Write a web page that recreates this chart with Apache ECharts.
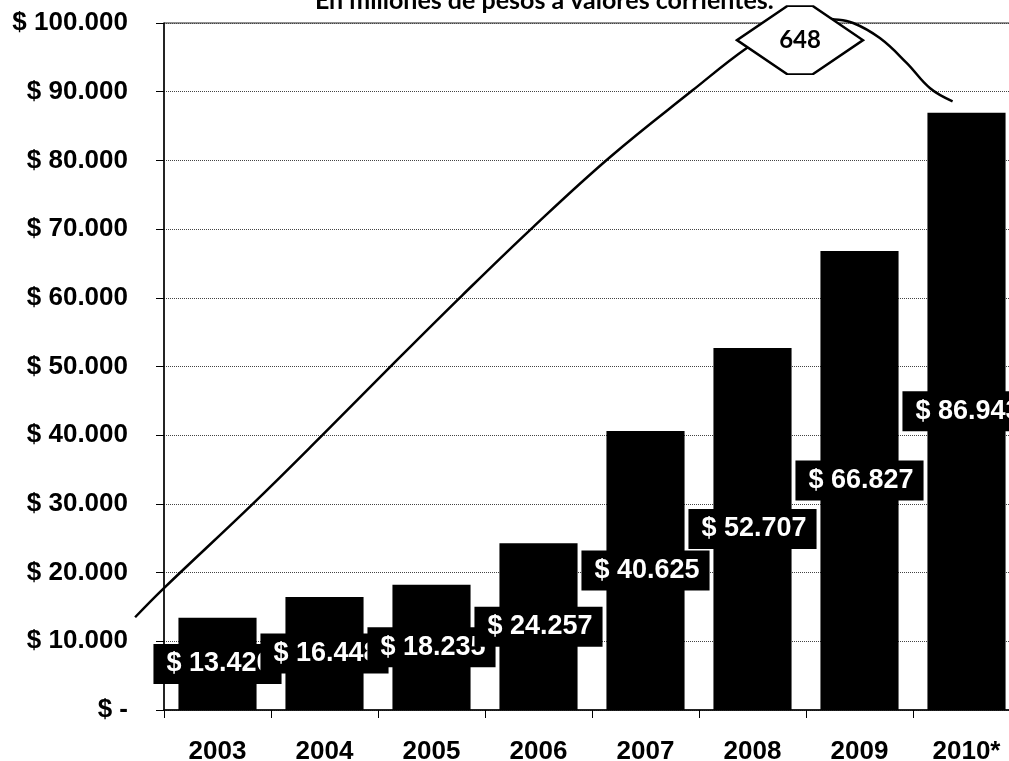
<!DOCTYPE html>
<html>
<head>
<meta charset="utf-8">
<script src="https://cdn.jsdelivr.net/npm/echarts@6/dist/echarts.min.js"></script>
<style>
html,body{margin:0;padding:0;background:#fff;}
#chart{width:1009px;height:761px;}
</style>
</head>
<body>
<div id="chart"></div>
<script>
// ---- data ----
var categories = ['2003', '2004', '2005', '2006', '2007', '2008', '2009', '2010*'];
var values = [13420, 16448, 18235, 24257, 40625, 52707, 66827, 86943];
var yTicks = [0, 10000, 20000, 30000, 40000, 50000, 60000, 70000, 80000, 90000, 100000];
var titleText = 'En millones de pesos a valores corrientes.';
// trend curve, x in category units (0 = left edge of 2003), y in pesos
var curveX = [-0.27, -0.01, 0.83, 1.48, 2.13, 2.79, 3.45, 4.17, 4.94, 5.45, 5.80, 6.08, 6.24, 6.44, 6.69, 6.94, 7.16, 7.37];
var curveY = [13500, 17600, 30000, 40000, 50200, 60400, 70300, 80500, 90200, 96400, 99600, 100900, 100600, 100000, 97800, 94200, 90500, 88600];
var calloutText = '648';
var calloutPos = [5.944, 97500];

function fmt(v) {
  return String(v).replace(/\B(?=(\d{3})+(?!\d))/g, '.');
}

var curveData = curveX.map(function (x, i) { return [x, curveY[i]]; });

var chart = echarts.init(document.getElementById('chart'), null, {renderer: 'canvas'});
var arial = "'Liberation Sans', Arial, sans-serif";

chart.setOption({
  animation: false,
  backgroundColor: '#fff',
  title: {
    text: titleText,
    left: 310,
    top: -17,
    textStyle: {fontFamily: 'Lato', fontWeight: 'bold', fontSize: 25, color: '#000'}
  },
  grid: [{
    left: 164, top: 23, width: 856, height: 687,
    outerBoundsMode: 'none', containLabel: false,
    show: true, borderColor: '#222', borderWidth: 1, backgroundColor: 'transparent'
  }, {
    left: 57, top: 23, width: 963, height: 687,
    outerBoundsMode: 'none', containLabel: false,
    show: false
  }],
  xAxis: [{
    type: 'category',
    gridIndex: 0,
    data: categories,
    axisLine: {lineStyle: {color: '#000', width: 1.5}},
    axisTick: {show: true, length: 8, lineStyle: {color: '#000'}},
    axisLabel: {fontFamily: arial, fontWeight: 'bold', fontSize: 26, color: '#000', margin: 29},
    splitLine: {show: false}
  }, {
    type: 'value', gridIndex: 1, min: -1, max: 8, show: false
  }],
  yAxis: [{
    type: 'value',
    gridIndex: 0,
    min: 0, max: 100000, interval: 10000,
    axisLine: {show: true, lineStyle: {color: '#000', width: 1.5}},
    axisTick: {show: true, length: 8, lineStyle: {color: '#000'}},
    axisLabel: {
      fontFamily: arial, fontWeight: 'bold', fontSize: 26, color: '#000', margin: 36,
      formatter: function (v) { return v === 0 ? '$ -' : '$ ' + fmt(v); }
    },
    splitLine: {show: true, lineStyle: {color: '#444', type: 'dotted', width: 1}}
  }, {
    type: 'value', gridIndex: 1, min: 0, max: 100000, show: false
  }],
  series: [{
    type: 'bar',
    data: values,
    barWidth: '73%',
    itemStyle: {color: '#000'},
    label: {
      show: true,
      position: 'inside',
      formatter: function (p) { return '$ ' + fmt(p.value); },
      fontFamily: arial, fontWeight: 'bold', fontSize: 27, color: '#fff',
      backgroundColor: '#000',
      padding: [7, 10, 6, 13]
    },
    z: 2
  }, {
    type: 'line',
    xAxisIndex: 1,
    yAxisIndex: 1,
    data: curveData,
    smooth: 0.4,
    clip: false,
    symbol: 'none',
    lineStyle: {color: '#000', width: 2.5},
    z: 3,
    markPoint: {
      symbol: 'path://M0,34 L50,0 L76,0 L126,34 L76,68 L50,68 Z',
      symbolSize: [126, 68],
      itemStyle: {color: '#fff', borderColor: '#000', borderWidth: 2.5},
      label: {
        show: true, position: 'inside', formatter: calloutText,
        fontFamily: 'Lato', fontWeight: 'bold', fontSize: 24, color: '#000'
      },
      data: [{coord: calloutPos}]
    }
  }]
});
</script>
</body>
</html>
